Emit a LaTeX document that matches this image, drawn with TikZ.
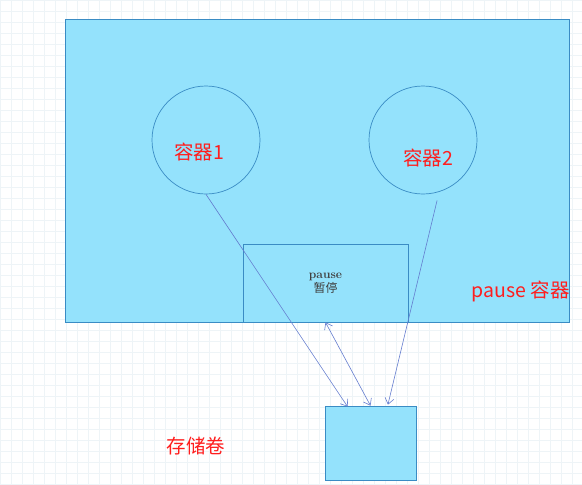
\documentclass[tikz,border=0pt]{standalone}
\usepackage{fontspec}
\newfontfamily\cjk{Noto Sans CJK SC}
\usetikzlibrary{arrows, arrows.meta}
\usetikzlibrary{calc}
\definecolor{podfill}{RGB}{148,226,252}
\definecolor{podline}{RGB}{58,140,196}
\definecolor{linkblue}{RGB}{100,124,206}
\definecolor{labelred}{RGB}{255,30,30}
\definecolor{gridline}{RGB}{238,244,247}
\tikzset{
  box/.style={draw=podline, fill=podfill, inner sep=0pt, line width=0.7pt},
  ctr/.style={circle, draw=podline, fill=podfill, inner sep=0pt, line width=0.7pt, minimum size=108pt},
  redlabel/.style={text=labelred, font=\cjk\fontsize{19.5}{22}\selectfont, inner sep=0pt},
  link/.style={draw=linkblue, line width=0.6pt, -{Straight Barb[length=6pt, width=9pt]}}
}
\begin{document}
\begin{tikzpicture}[x=1pt, y=-1pt]
      \useasboundingbox (0,0) rectangle (582,485);
      \draw[gridline, line width=0.4pt, step=11pt] (0,0) grid (582,485);

      \node[box, minimum width=504pt, minimum height=303pt, line width=0.9pt] (pod) at (317,170.5) {};
      \node[redlabel, anchor=east] (podname) at (570,291) {pause 容器};

      \node[ctr] (c1) at (206,140) {};
      \node[ctr] (c2) at (423,140) {};
      \node[redlabel] (c1name) at (199,152) {容器1};
      \node[redlabel] (c2name) at (428,158) {容器2};

      \node[box, minimum width=165pt, minimum height=78pt, align=center, text=black!75,
            font=\fontsize{12}{14}\selectfont] (pause) at (325.5,283)
            {\textbf{pause}\\[0pt]{\cjk 暂停}};

      \node[box, minimum width=91pt, minimum height=74pt] (vol) at (370.5,443) {};
      \node[redlabel] (volname) at (196,446) {存储卷};

      \coordinate (c2out) at ($(c2.-75)+(0,8)$);
      \draw[link] (c1.south) -- ($(vol.north west)!0.25!(vol.north east)+(0,1)$);
      \draw[link] (c2out) -- ($(vol.north west)!0.69!(vol.north east)+(0,-1)$);
      \draw[link, {Straight Barb[length=6pt, width=9pt]}-{Straight Barb[length=6pt, width=9pt]}] (pause.south) -- (vol.north);
    \end{tikzpicture}
\end{document}
